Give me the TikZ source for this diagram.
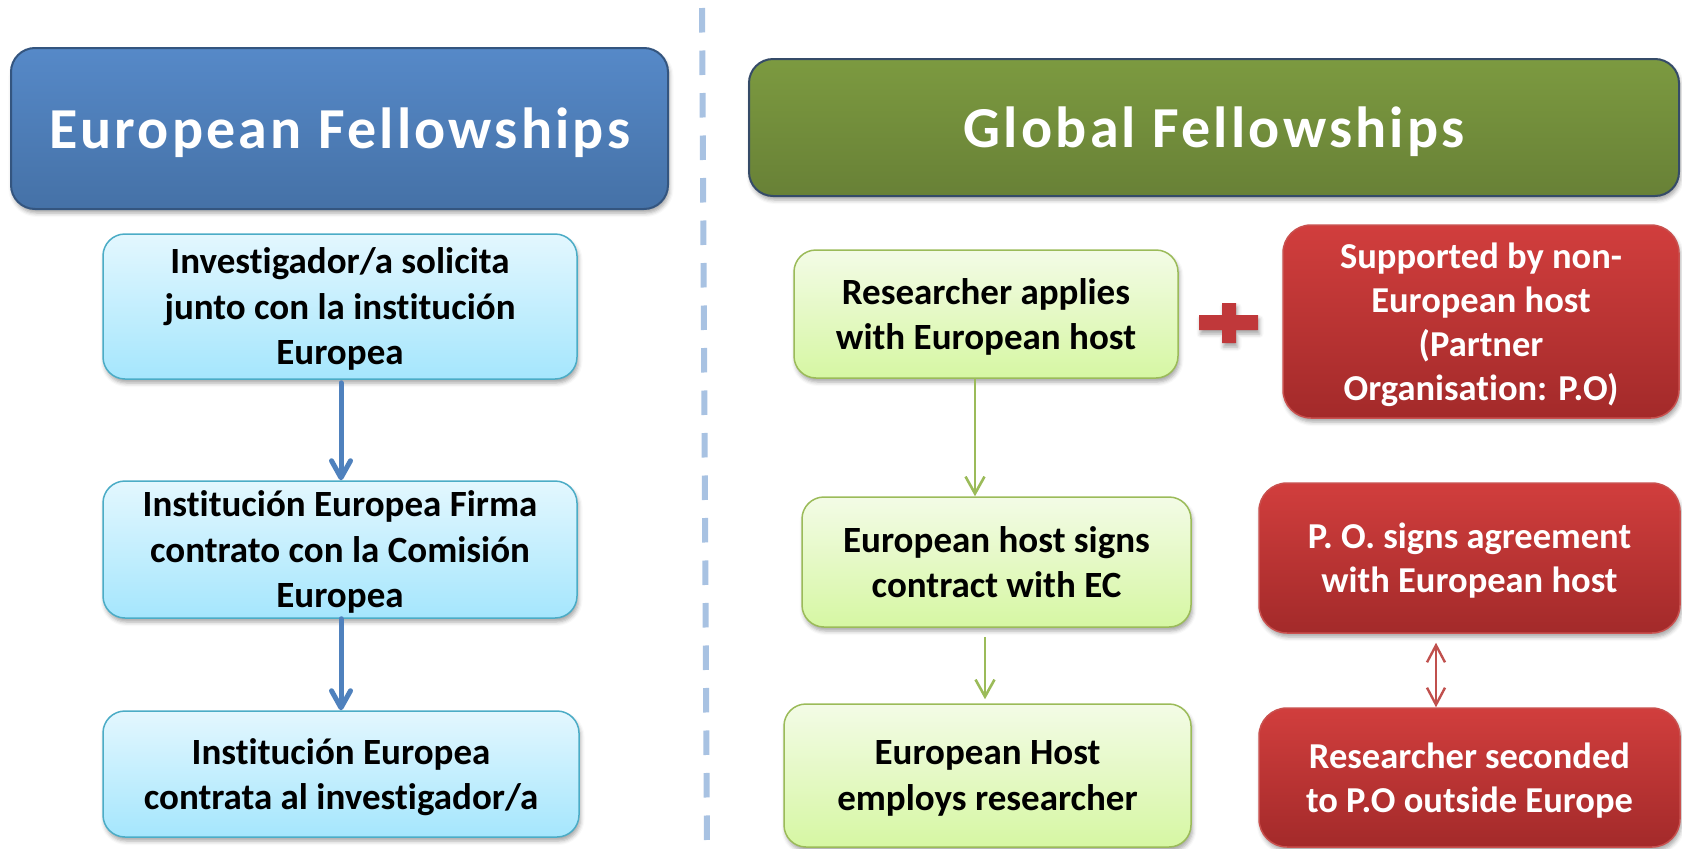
\documentclass[tikz,border=0pt]{standalone}
\usepackage{fontspec}
\setmainfont{Carlito}[Ligatures=NoCommon]
\usetikzlibrary{arrows.meta,shadows.blur}
\definecolor{efblue}{HTML}{4B7BB5}
\definecolor{efbluetop}{HTML}{5689C8}
\definecolor{efborder}{HTML}{34557F}
\definecolor{gfgreen}{HTML}{718C3B}
\definecolor{gfgreentop}{HTML}{7C9A40}
\definecolor{gfborder}{HTML}{354B68}
\definecolor{cyantop}{HTML}{E3F7FE}
\definecolor{cyanbot}{HTML}{A5E6FD}
\definecolor{cyanborder}{HTML}{4BACC6}
\definecolor{limetop}{HTML}{F3FBE6}
\definecolor{limebot}{HTML}{D6F7A3}
\definecolor{limeborder}{HTML}{9BBB59}
\definecolor{redtop}{HTML}{D13E3D}
\definecolor{redbot}{HTML}{A32A2A}
\definecolor{redborder}{HTML}{C9504E}
\definecolor{plusred}{HTML}{C0383A}
\definecolor{arrblue}{HTML}{4F81BD}
\definecolor{arrgreen}{HTML}{9BBB59}
\definecolor{arrred}{HTML}{C0504D}
\definecolor{divblue}{HTML}{A8C2E2}
\begin{document}
\begin{tikzpicture}[x=1pt,y=-1pt,
  shadowed/.style={blur shadow={shadow xshift=1.5pt,shadow yshift=-4pt,shadow blur radius=4pt,shadow opacity=35}},
  titlebox/.style={shadowed,rounded corners=24pt,line width=2pt,inner sep=0pt,align=center,text=white,
    text depth=-3pt,font=\fontsize{58}{62}\selectfont\bfseries\addfontfeature{LetterSpace=5.5}},
  eftitle/.style={titlebox,draw=efborder,top color=efbluetop,bottom color=efblue!92!black},
  gftitle/.style={titlebox,draw=gfborder,top color=gfgreentop,bottom color=gfgreen!92!black},
  bodybox/.style={shadowed,rounded corners=22pt,line width=1.5pt,inner sep=0pt,align=center,
    text depth=-3pt,font=\fontsize{37}{45.5}\selectfont\bfseries},
  cyanbox/.style={bodybox,draw=cyanborder,top color=cyantop,bottom color=cyanbot},
  limebox/.style={bodybox,draw=limeborder,top color=limetop,bottom color=limebot},
  redbox/.style={bodybox,rounded corners=28pt,draw=redborder,top color=redtop,bottom color=redbot,text=white,
    font=\fontsize{36.5}{44}\selectfont\bfseries},
  bluearr/.style={draw=arrblue,line width=5pt,line cap=round,
    -{Straight Barb[length=17pt,width=19pt,line width=5pt,round]}},
  greenarr/.style={draw=arrgreen,line width=2.6pt,
    -{Straight Barb[length=17pt,width=19pt,line width=2.6pt]}},
  redarr/.style={draw=arrred,line width=2.4pt,
    {Straight Barb[length=17pt,width=18pt,line width=2.4pt]}-{Straight Barb[length=17pt,width=18pt,line width=2.4pt]}},
  divider/.style={draw=divblue,line width=6pt,dash pattern=on 24.5pt off 18pt}
]
\useasboundingbox (0,0) rectangle (1682,849);

% divider
\coordinate (dtop) at (702,8);
\coordinate (dbot) at (707,849);
\draw[divider] (dtop) -- (dbot);

% titles
\node[eftitle,minimum width=657pt,minimum height=161pt] (ef) at (339.5,128.5) {European Fellowships};
\node[gftitle,minimum width=930pt,minimum height=137pt] (gf) at (1214,127.5) {Global Fellowships};

% left column
\node[cyanbox,minimum width=474pt,minimum height=145pt] (b1) at (340,306.5)
  {Investigador/a solicita\\junto con la institución\\Europea};
\node[cyanbox,minimum width=474pt,minimum height=137pt] (b2) at (340,549.5)
  {Institución Europea Firma\\contrato con la Comisión\\Europea};
\node[cyanbox,minimum width=476pt,minimum height=126pt] (b3) at (341,774)
  {Institución Europea\\contrata al investigador/a};

\draw[bluearr,shorten <=3pt] ([xshift=1pt]b1.south) -- ([xshift=1pt]b2.north);
\draw[bluearr] ([xshift=1pt]b2.south) -- (b3.north);

% middle column
\node[limebox,minimum width=384pt,minimum height=128pt] (g1) at (986,314)
  {Researcher applies\\with European host};
\node[limebox,minimum width=389pt,minimum height=130pt] (g2) at (996.5,562)
  {European host signs\\contract with EC};
\node[limebox,minimum width=407pt,minimum height=143pt] (g3) at (987.5,775.5)
  {European Host\\employs researcher};

\draw[greenarr] ([xshift=-11pt]g1.south) -- ([xshift=-21.5pt]g2.north);
\draw[greenarr,shorten <=9pt,shorten >=4pt] ([xshift=-11.5pt]g2.south) -- ([xshift=-2.5pt]g3.north);

% plus sign
\fill[plusred,shadowed] (1199,315) -- (1222,315) -- (1222,303) -- (1236,303) -- (1236,315)
  -- (1258,315) -- (1258,330) -- (1236,330) -- (1236,343) -- (1222,343) -- (1222,330)
  -- (1199,330) -- cycle;

% right column
\node[redbox,minimum width=396pt,minimum height=193pt] (r1) at (1481,321.5)
  {Supported by non-\\European host\\(Partner\\Organisation: P.O)};
\node[redbox,minimum width=421pt,minimum height=150pt] (r2) at (1469.5,558)
  {P. O. signs agreement\\with European host};
\node[redbox,minimum width=421pt,minimum height=139pt] (r3) at (1469.5,777.5)
  {Researcher seconded\\to P.O outside Europe};

\draw[redarr,shorten <=9pt] ([xshift=-33.5pt]r2.south) -- ([xshift=-33.5pt]r3.north);
\end{tikzpicture}
\end{document}
